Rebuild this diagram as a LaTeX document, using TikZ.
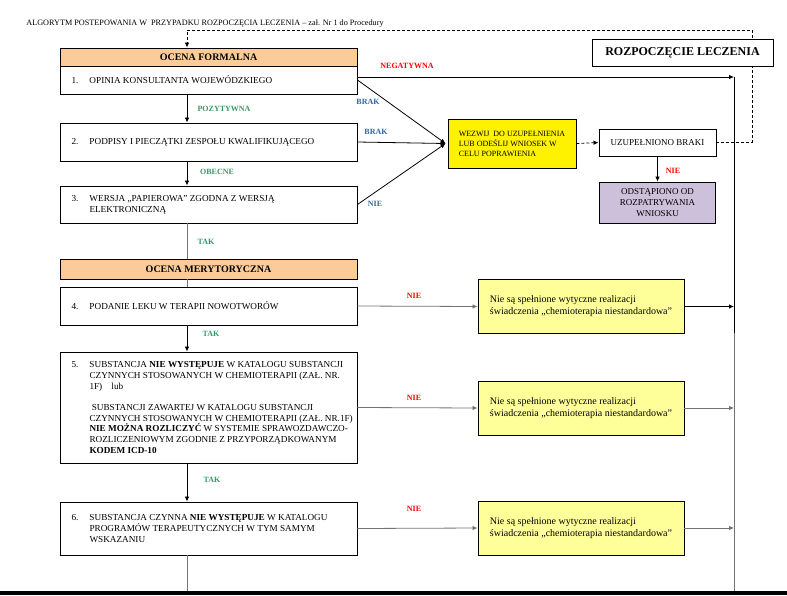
\documentclass[tikz,border=0pt]{standalone}
\usepackage{fontspec}
\setmainfont{Liberation Serif}
\usetikzlibrary{positioning,calc,arrows.meta}

\definecolor{peach}{RGB}{251,204,153}
\definecolor{lightyel}{RGB}{255,255,153}
\definecolor{lavender}{RGB}{204,192,218}
\definecolor{tagGreen}{RGB}{51,153,102}
\definecolor{tagBlue}{RGB}{51,102,153}
\definecolor{tagRed}{RGB}{255,0,0}

% numbered step text: margin + number column + hanging text column (297pt in all)
\newcommand{\numbox}[2]{\hspace*{11.5pt}\makebox[18pt][l]{#1}\parbox[t]{267.5pt}{\raggedright #2}}

\begin{document}
\begin{tikzpicture}[x=1pt, y=-1pt,
    flowbox/.style={draw, rectangle, line width=0.9pt, inner sep=0pt, minimum width=297pt, font=\fontsize{9.2}{10.7}\selectfont},
    headbox/.style={flowbox, fill=peach, font=\fontsize{10}{12}\selectfont\bfseries},
    sidebox/.style={draw, rectangle, line width=0.9pt, inner sep=0pt, font=\fontsize{9}{10.7}\selectfont},
    resultbox/.style={draw, rectangle, line width=0.9pt, inner sep=0pt, fill=lightyel, minimum width=206pt, minimum height=54pt, align=left, font=\fontsize{10}{12}\selectfont},
    lbl/.style={inner sep=0pt, font=\fontsize{8}{9}\selectfont\bfseries},
    flowarr/.style={-{Latex[length=5pt,width=4.5pt]}, line width=0.8pt},
    plainline/.style={line width=0.8pt},
    greyline/.style={line width=0.8pt, draw=black!55},
    dashline/.style={line width=0.8pt, dash pattern=on 3pt off 2pt}]

    \useasboundingbox (0,0) rectangle (787,595);

    % Title
    \node[inner sep=0pt, font=\fontsize{8.2}{9}\selectfont] (title) at (205,24) {ALGORYTM POSTEPOWANIA W~~PRZYPADKU ROZPOCZĘCIA LECZENIA – zał. Nr 1 do Procedury};

    % Formal assessment
    \node[headbox, minimum height=18pt] (ocenaF) at (208.5,57) {OCENA FORMALNA};
    \node[flowbox, minimum height=28pt] (op1) at (208.5,80) {\numbox{1.}{OPINIA KONSULTANTA WOJEWÓDZKIEGO}};
    \node[flowbox, minimum height=38pt] (podpisy2) at (208.5,142) {\numbox{2.}{PODPISY I PIECZĄTKI ZESPOŁU KWALIFIKUJĄCEGO}};
    \node[flowbox, minimum height=37pt] (wersja3) at (208.5,204.5) {\numbox{3.}{WERSJA „PAPIEROWA” ZGODNA Z WERSJĄ\\ELEKTRONICZNĄ}};

    % Substantive assessment
    \node[headbox, minimum height=20pt] (ocenaM) at (208.5,269) {OCENA MERYTORYCZNA};
    \node[flowbox, minimum height=38pt] (lek4) at (208.5,306) {\numbox{4.}{PODANIE LEKU W TERAPII NOWOTWORÓW}};
    \node[flowbox, minimum height=111pt] (subst5) at (208.5,407.5) {\numbox{5.}{SUBSTANCJA \textbf{NIE WYSTĘPUJE} W KATALOGU SUBSTANCJI\\CZYNNYCH STOSOWANYCH W CHEMIOTERAPII (ZAŁ. NR.\\1F)\quad lub\\[10.7pt]
        \ SUBSTANCJI ZAWARTEJ W KATALOGU SUBSTANCJI\\CZYNNYCH STOSOWANYCH W CHEMIOTERAPII (ZAŁ. NR.1F)\\\textbf{NIE MOŻNA ROZLICZYĆ} W SYSTEMIE SPRAWOZDAWCZO-\\ROZLICZENIOWYM ZGODNIE Z PRZYPORZĄDKOWANYM\\\textbf{KODEM ICD-10}}};
    \node[flowbox, minimum height=53pt] (katalog6) at (208.5,528.5) {\numbox{6.}{SUBSTANCJA CZYNNA \textbf{NIE WYSTĘPUJE} W KATALOGU\\PROGRAMÓW TERAPEUTYCZNYCH W TYM SAMYM\\WSKAZANIU}};

    % Missing documents branch
    \node[sidebox, fill=yellow, minimum width=128pt, minimum height=49pt, align=left, font=\fontsize{8}{10}\selectfont] (wezwij) at (512,143.5) {WEZWIJ~~DO UZUPEŁNIENIA\\LUB ODEŚLIJ WNIOSEK W\\CELU POPRAWIENIA};
    \node[sidebox, minimum width=117pt, minimum height=27pt] (uzup) at (657.5,142.5) {UZUPEŁNIONO BRAKI};
    \node[sidebox, fill=lavender, minimum width=116pt, minimum height=41pt, align=center] (odst) at (657.5,202.5) {ODSTĄPIONO OD\\ROZPATRYWANIA\\WNIOSKU};

    % Results
    \node[resultbox] (niestA) at (581,306.5) {Nie są spełnione wytyczne realizacji\\świadczenia „chemioterapia niestandardowa”};
    \node[resultbox] (niestB) at (581,408) {Nie są spełnione wytyczne realizacji\\świadczenia „chemioterapia niestandardowa”};
    \node[resultbox] (niestC) at (581,528) {Nie są spełnione wytyczne realizacji\\świadczenia „chemioterapia niestandardowa”};

    % Labels
    \node[lbl, text=tagGreen] (lPoz) at (224,109) {POZYTYWNA};
    \node[lbl, text=tagGreen] (lObec) at (217,172) {OBECNE};
    \node[lbl, text=tagGreen] (lTak3) at (206,242) {TAK};
    \node[lbl, text=tagGreen] (lTak4) at (211,334) {TAK};
    \node[lbl, text=tagGreen] (lTak5) at (212,480) {TAK};
    \node[lbl, text=tagRed] (lNeg) at (407,66) {NEGATYWNA};
    \node[lbl, text=tagBlue] (lBrak1) at (368,102) {BRAK};
    \node[lbl, text=tagBlue] (lBrak2) at (376,132) {BRAK};
    \node[lbl, text=tagBlue] (lNie3) at (375,204) {NIE};
    \node[lbl, text=tagRed] (lNieU) at (673,171) {NIE};
    \node[lbl, text=tagRed] (lNie4) at (414,296) {NIE};
    \node[lbl, text=tagRed] (lNie5) at (414,398) {NIE};
    \node[lbl, text=tagRed] (lNie6) at (414,509) {NIE};

    % Helper coordinates
    \coordinate (spine) at (187,0);
    \coordinate (rtop) at (734,77);
    \coordinate (rmid) at (734,333);
    \coordinate (rbot) at (734,591);
    \coordinate (bot) at (187,591);
    \coordinate (dashR) at (752,30);
    \coordinate (wIn) at ([xshift=-2pt]wezwij.west);

    % Main flow
    \draw[flowarr] (op1.south -| spine) -- (podpisy2.north -| spine);
    \draw[flowarr] (podpisy2.south -| spine) -- (wersja3.north -| spine);
    \draw[greyline] (wersja3.south -| spine) -- (ocenaM.north -| spine);
    \draw[greyline] (ocenaM.south -| spine) -- (lek4.north -| spine);
    \draw[flowarr] (lek4.south -| spine) -- (subst5.north -| spine);
    \draw[flowarr] (subst5.south -| spine) -- (katalog6.north -| spine);
    \draw[greyline] (katalog6.south -| spine) -- (bot);

    % Negative opinion and right collector
    \draw[flowarr] (op1.east |- rtop) -- (rtop);
    \draw[plainline] (rtop) -- (rmid);
    \draw[greyline] (rmid) -- (rbot);

    % Missing items
    \draw[flowarr] (op1.east) -- (wIn);
    \draw[flowarr] (podpisy2.east) -- (wIn);
    \draw[flowarr] (wersja3.east) -- (wIn);
    \draw[dashline, -{Latex[length=5pt,width=4.5pt]}] (wezwij.east) -- (uzup.west);
    \draw[flowarr] (uzup.south) -- (odst.north);
    \draw[dashline, -{Latex[length=5pt,width=4.5pt]}] (uzup.east) -| (dashR) -| (ocenaF.north -| spine);

    % Substantive negatives
    \draw[flowarr, draw=black!55] (lek4.east) -- (niestA.west);
    \draw[flowarr, draw=black!55] (subst5.east) -- (niestB.west);
    \draw[flowarr, draw=black!55] (katalog6.east) -- (niestC.west);
    \draw[flowarr] (niestA.east) -- (niestA.east -| rtop);
    \draw[flowarr, draw=black!55] (niestB.east) -- (niestB.east -| rtop);
    \draw[flowarr, draw=black!55] (niestC.east) -- (niestC.east -| rtop);

    % Start of treatment (over the dashed return line)
    \node[sidebox, fill=white, minimum width=181pt, minimum height=27pt, font=\fontsize{12}{14}\selectfont\bfseries] (start) at (682.5,52.5) {ROZPOCZĘCIE LECZENIA};

    % Page edge
    \fill (0,591) rectangle (787,595);
\end{tikzpicture}
\end{document}
